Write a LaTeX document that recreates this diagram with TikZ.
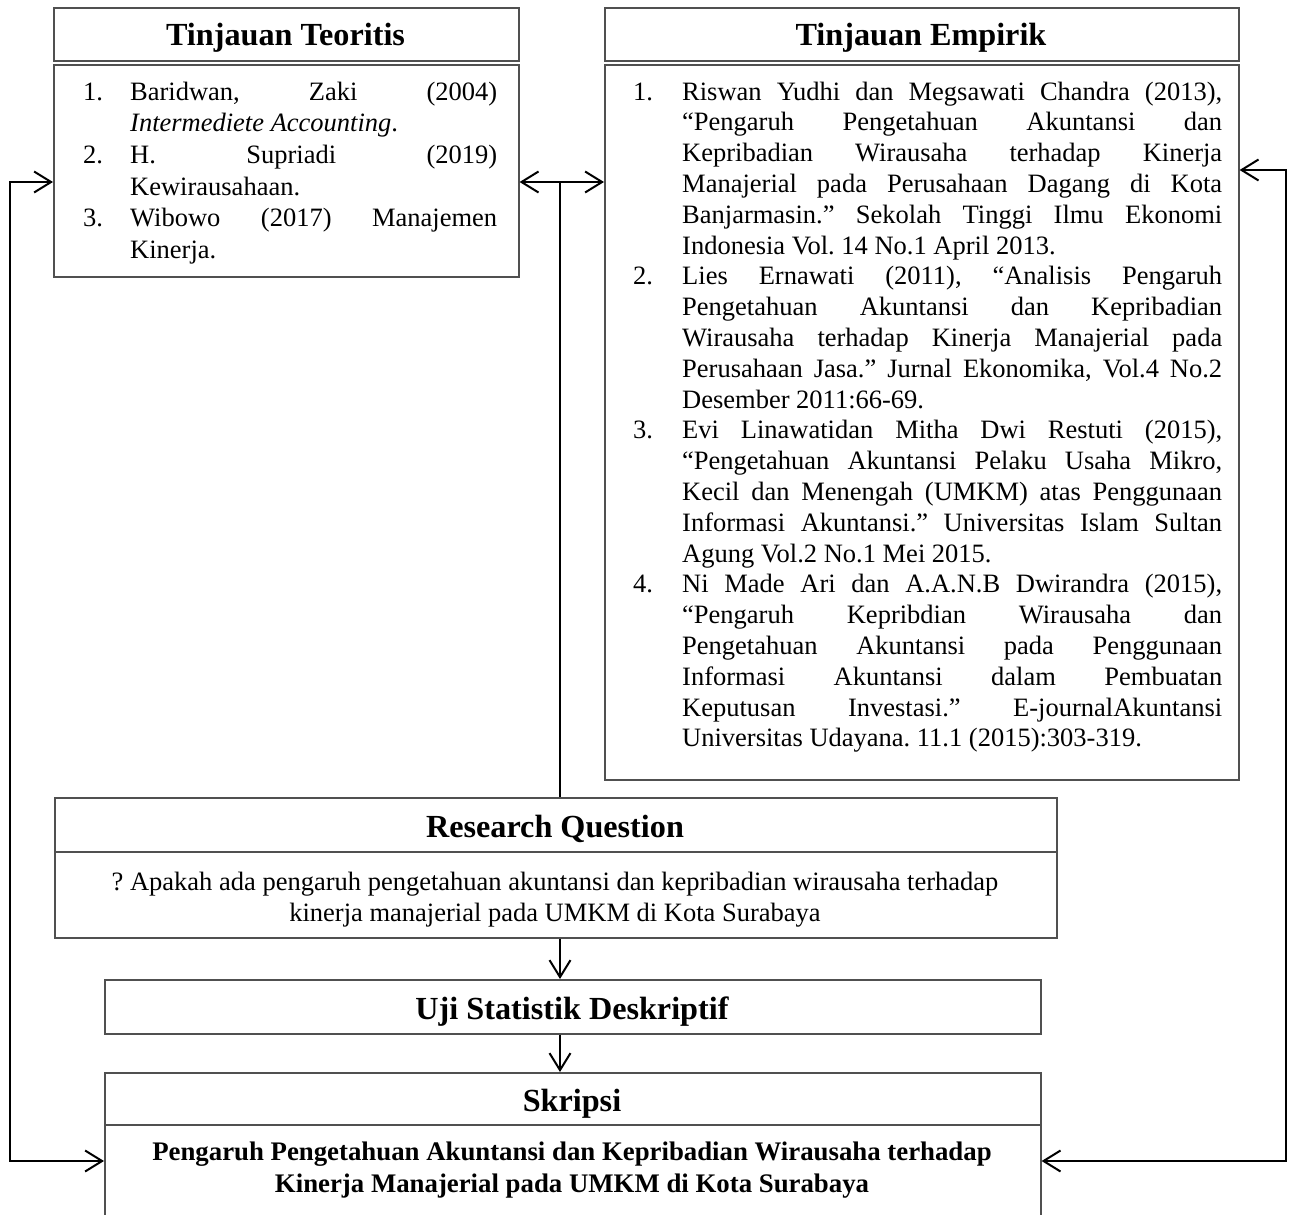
\documentclass[tikz,border=0pt]{standalone}
\usepackage{fontspec}
\setmainfont{Liberation Serif}
\usetikzlibrary{arrows.meta}
\definecolor{boxgray}{RGB}{80,80,80}
\newlength\numw
\newlength\txw
\newcommand\JL[2]{\hbox{\makebox[\numw][l]{#1}\makebox[\txw][s]{#2}}}
\newcommand\LL[2]{\hbox{\makebox[\numw][l]{#1}#2}}
\frenchspacing
\begin{document}
\begin{tikzpicture}[x=1pt,y=-1pt,
  box/.style={draw=boxgray, line width=1.6pt, inner sep=0pt, anchor=north west},
  conn/.style={draw=black, line width=2pt},
  onetip/.style={conn, -{Straight Barb[length=17pt,width=21pt]}},
  twotip/.style={conn, {Straight Barb[length=17pt,width=21pt]}-{Straight Barb[length=17pt,width=21pt]}},
  head/.style={inner sep=0pt, anchor=base, font=\bfseries\fontsize{32.2}{38}\selectfont},
  body/.style={inner sep=0pt, anchor=base, font=\fontsize{26.5}{31.7}\selectfont},
  bodyb/.style={body, font=\bfseries\fontsize{26.8}{31.7}\selectfont},
  list/.style={inner sep=0pt, anchor=base west, font=\fontsize{26.5}{31.7}\selectfont}]
\useasboundingbox (0,0) rectangle (1293,1215);

% boxes
\node[box, minimum width=465pt, minimum height=53pt] (teoH) at (53,7) {};
\node[box, minimum width=465pt, minimum height=212pt] (teoC) at (53,64) {};
\node[box, minimum width=634pt, minimum height=53pt] (empH) at (604,7) {};
\node[box, minimum width=634pt, minimum height=715pt] (empC) at (604,64) {};
\node[box, minimum width=1002pt, minimum height=54pt] (rqH) at (54,797) {};
\node[box, minimum width=1002pt, minimum height=86pt] (rqC) at (54,851) {};
\node[box, minimum width=936pt, minimum height=54pt] (uji) at (104,979) {};
\node[box, minimum width=936pt, minimum height=52pt] (skH) at (104,1072) {};
\node[box, minimum width=936pt, minimum height=130pt] (skC) at (104,1124) {};

% headings
\node[head] (teoHt) at (285.5,46) {Tinjauan Teoritis};
\node[head] (empHt) at (921,46) {Tinjauan Empirik};
\node[head] (rqHt) at (555,837) {Research Question};
\node[head] (ujiT) at (572,1019) {Uji Statistik Deskriptif};
\node[head] (skHt) at (572,1111) {Skripsi};

% Tinjauan Teoritis list
\node[list] (teoT) at (83,100) {\setlength\numw{47pt}\setlength\txw{367pt}%
\vtop{\baselineskip=31.7pt
\JL{1.}{Baridwan, Zaki (2004)}
\LL{}{\textit{Intermediete Accounting}.}
\JL{2.}{H. Supriadi (2019)}
\LL{}{Kewirausahaan.}
\JL{3.}{Wibowo (2017) Manajemen}
\LL{}{Kinerja.}}};

% Tinjauan Empirik list
\node[list] (empT) at (633,100) {\setlength\numw{49pt}\setlength\txw{540pt}%
\vtop{\baselineskip=30.8pt
\JL{1.}{Riswan Yudhi dan Megsawati Chandra (2013),}
\JL{}{“Pengaruh Pengetahuan Akuntansi dan}
\JL{}{Kepribadian Wirausaha terhadap Kinerja}
\JL{}{Manajerial pada Perusahaan Dagang di Kota}
\JL{}{Banjarmasin.” Sekolah Tinggi Ilmu Ekonomi}
\LL{}{Indonesia Vol. 14 No.1 April 2013.}
\JL{2.}{Lies Ernawati (2011), “Analisis Pengaruh}
\JL{}{Pengetahuan Akuntansi dan Kepribadian}
\JL{}{Wirausaha terhadap Kinerja Manajerial pada}
\JL{}{Perusahaan Jasa.” Jurnal Ekonomika, Vol.4 No.2}
\LL{}{Desember 2011:66-69.}
\JL{3.}{Evi Linawatidan Mitha Dwi Restuti (2015),}
\JL{}{“Pengetahuan Akuntansi Pelaku Usaha Mikro,}
\JL{}{Kecil dan Menengah (UMKM) atas Penggunaan}
\JL{}{Informasi Akuntansi.” Universitas Islam Sultan}
\LL{}{Agung Vol.2 No.1 Mei 2015.}
\JL{4.}{Ni Made Ari dan A.A.N.B Dwirandra (2015),}
\JL{}{“Pengaruh Kepribdian Wirausaha dan}
\JL{}{Pengetahuan Akuntansi pada Penggunaan}
\JL{}{Informasi Akuntansi dalam Pembuatan}
\JL{}{Keputusan Investasi.” E-journalAkuntansi}
\LL{}{Universitas Udayana. 11.1 (2015):303-319.}}};

% Research question text
\node[body] (rq1) at (555,890) {? Apakah ada pengaruh pengetahuan akuntansi dan kepribadian wirausaha terhadap};
\node[body] (rq2) at (555,921) {kinerja manajerial pada UMKM di Kota Surabaya};

% Skripsi text
\node[bodyb] (sk1) at (572,1160) {Pengaruh Pengetahuan Akuntansi dan Kepribadian Wirausaha terhadap};
\node[bodyb] (sk2) at (572,1192) {Kinerja Manajerial pada UMKM di Kota Surabaya};

% connector coordinates
\coordinate (mid) at (560,182);
\coordinate (L) at (10,182);
\coordinate (Lb) at (10,1161);
\coordinate (R) at (1286,170);
\coordinate (Rb) at (1286,1161);

% connectors
\draw[twotip] (teoC.west |- L) -- (L) -- (Lb) -- (skC.west |- Lb);
\draw[twotip] (empC.east |- R) -- (R) -- (Rb) -- (skC.east |- Rb);
\draw[twotip] (teoC.east |- mid) -- (empC.west |- mid);
\draw[conn] (rqH.north -| mid) -- (mid);
\draw[onetip] (rqC.south -| mid) -- (uji.north -| mid);
\draw[onetip] (uji.south -| mid) -- (skH.north -| mid);
\end{tikzpicture}
\end{document}
